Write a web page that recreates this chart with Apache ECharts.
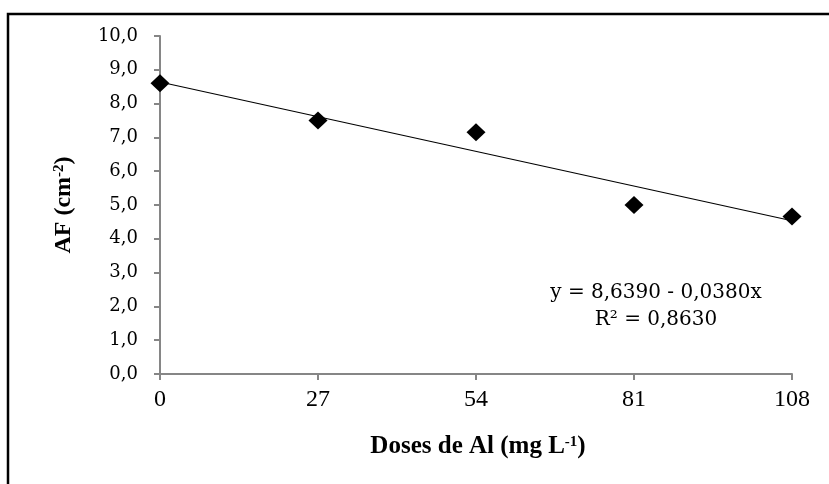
<!DOCTYPE html>
<html>
<head>
<meta charset="utf-8">
<script src="https://cdn.jsdelivr.net/npm/echarts@6/dist/echarts.min.js"></script>
<style>html,body{margin:0;padding:0;background:#fff;}#c{width:829px;height:484px;}</style>
</head>
<body>
<div id="c"></div>
<script>
const doses = [0, 27, 54, 81, 108];
const afValues = [8.60, 7.50, 7.15, 5.00, 4.66];
const trendX = [0, 108];
const trendY = [8.639, 4.535];
const yTicks = [0, 1, 2, 3, 4, 5, 6, 7, 8, 9, 10];
const xTicks = [0, 27, 54, 81, 108];
const equationLines = ['y = 8,6390 - 0,0380x', 'R² = 0,8630'];

const chart = echarts.init(document.getElementById('c'), null, {renderer: 'canvas'});
const axisGray = '#868686';
chart.setOption({
  animation: false,
  backgroundColor: '#fff',
  grid: {left: 160, right: 37, top: 36, bottom: 110, containLabel: false},
  xAxis: {
    type: 'value', min: xTicks[0], max: xTicks[xTicks.length - 1], interval: 27,
    axisLine: {show: true, lineStyle: {color: axisGray, width: 2}},
    axisTick: {show: true, length: 6, lineStyle: {color: axisGray, width: 2}},
    splitLine: {show: false},
    axisLabel: {fontFamily: 'Liberation Serif', fontSize: 24, color: '#000', margin: 14}
  },
  yAxis: {
    type: 'value', min: yTicks[0], max: yTicks[yTicks.length - 1], interval: 1,
    axisLine: {show: true, lineStyle: {color: axisGray, width: 2}},
    axisTick: {show: true, length: 6, lineStyle: {color: axisGray, width: 2}},
    splitLine: {show: false},
    axisLabel: {fontFamily: 'DejaVu Serif', fontSize: 18, color: '#000', margin: 22,
      formatter: v => v.toFixed(1).replace('.', ',')}
  },
  series: [
    {
      type: 'line', data: trendX.map((x, i) => [x, trendY[i]]),
      showSymbol: false, symbol: 'none', silent: true,
      lineStyle: {color: '#000', width: 1.2}, z: 2
    },
    {
      type: 'scatter', data: doses.map((x, i) => [x, afValues[i]]),
      symbol: 'diamond', symbolSize: [19, 18],
      itemStyle: {color: '#000', opacity: 1}, z: 3
    }
  ],
  graphic: [
    {type: 'rect', shape: {x: 8, y: 14, width: 900, height: 600},
     style: {fill: 'none', stroke: '#000', lineWidth: 2.5}, silent: true},
    {type: 'text', x: 478, y: 447,
     style: {
       text: '{t|Doses de Al (mg L}{s|-1}{t|)}',
       align: 'center', verticalAlign: 'middle',
       rich: {
         t: {fontFamily: 'Liberation Serif', fontWeight: 'bold', fontSize: 25, fill: '#000'},
         s: {fontFamily: 'Liberation Serif', fontWeight: 'bold', fontSize: 15, fill: '#000', verticalAlign: 'top', padding: [0, 0, 10, 0]}
       }
     }},
    {type: 'text', x: 64, y: 205, rotation: Math.PI / 2,
     style: {
       text: '{t|AF (cm}{s|-2}{t|)}',
       align: 'center', verticalAlign: 'middle',
       rich: {
         t: {fontFamily: 'Liberation Serif', fontWeight: 'bold', fontSize: 24, fill: '#000'},
         s: {fontFamily: 'Liberation Serif', fontWeight: 'bold', fontSize: 15, fill: '#000', verticalAlign: 'top', padding: [0, 0, 10, 0]}
       }
     }},
    {type: 'text', x: 656, y: 293,
     style: {text: equationLines[0], align: 'center', verticalAlign: 'middle',
       fontFamily: 'DejaVu Serif', fontSize: 20, fill: '#000'}},
    {type: 'text', x: 656, y: 320,
     style: {text: equationLines[1], align: 'center', verticalAlign: 'middle',
       fontFamily: 'DejaVu Serif', fontSize: 20, fill: '#000'}}
  ]
});
</script>
</body>
</html>
